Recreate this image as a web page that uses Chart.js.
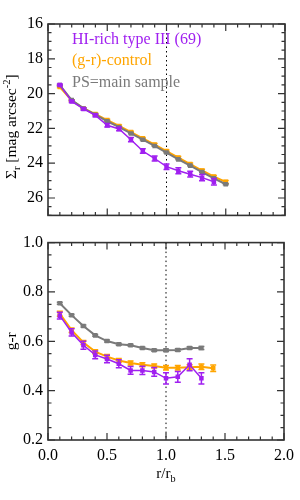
<!DOCTYPE html>
<html>
<head>
<meta charset="utf-8">
<script src="https://cdn.jsdelivr.net/npm/chart.js@4.4.0/dist/chart.umd.min.js"></script>
<style>
body { margin: 0; background: #fff; }
#wrap { position: relative; width: 300px; height: 500px; }
canvas { position: absolute; left: 0; display: block; }
</style>
</head>
<body>
<div id="wrap">
<canvas id="sbChart" width="300" height="230" style="top:0"></canvas>
<canvas id="colorChart" width="300" height="272" style="top:228px"></canvas>
</div>
<script>
const radius = [0.1, 0.2, 0.3, 0.4, 0.5, 0.6, 0.7, 0.8, 0.9, 1.0, 1.1, 1.2, 1.3, 1.4, 1.5];

// surface brightness, mag arcsec^-2
const sbRich = [19.50, 20.45, 20.88, 21.25, 21.82, 22.03, 22.65, 23.30, 23.73, 24.20, 24.43, 24.63, 24.83, 25.07];
const sbRichErr = [0.05, 0.06, 0.07, 0.08, 0.10, 0.10, 0.12, 0.13, 0.14, 0.16, 0.17, 0.17, 0.18, 0.19];
const sbControl = [19.62, 20.40, 20.85, 21.18, 21.52, 21.86, 22.21, 22.57, 22.93, 23.30, 23.68, 24.05, 24.42, 24.77, 25.07];
const sbControlErr = [0.04, 0.04, 0.04, 0.05, 0.05, 0.05, 0.05, 0.05, 0.06, 0.06, 0.06, 0.06, 0.07, 0.07, 0.08];
const sbMain = [19.51, 20.37, 20.85, 21.21, 21.59, 21.93, 22.29, 22.65, 23.01, 23.39, 23.78, 24.14, 24.51, 24.87, 25.21];
const sbMainErr = [0.02, 0.02, 0.02, 0.02, 0.02, 0.02, 0.02, 0.02, 0.02, 0.02, 0.02, 0.02, 0.02, 0.03, 0.03];

// g-r colour
const grRich = [0.704, 0.636, 0.584, 0.545, 0.528, 0.509, 0.482, 0.482, 0.476, 0.450, 0.456, 0.505, 0.450];
const grRichErr = [0.014, 0.015, 0.016, 0.016, 0.015, 0.016, 0.016, 0.017, 0.018, 0.023, 0.022, 0.024, 0.023];
const grControl = [0.712, 0.645, 0.595, 0.558, 0.538, 0.522, 0.512, 0.505, 0.500, 0.493, 0.493, 0.495, 0.497, 0.491];
const grControlErr = [0.010, 0.009, 0.008, 0.008, 0.008, 0.008, 0.008, 0.008, 0.008, 0.009, 0.009, 0.010, 0.011, 0.013];
const grMain = [0.754, 0.706, 0.662, 0.624, 0.601, 0.588, 0.584, 0.573, 0.564, 0.564, 0.565, 0.573, 0.573];
const grMainErr = [0.004, 0.004, 0.004, 0.004, 0.004, 0.004, 0.004, 0.004, 0.004, 0.005, 0.005, 0.005, 0.006];

const seriesNames = ['HI-rich type III (69)', '(g-r)-control', 'PS=main sample'];
const seriesColors = ['#A020F0', '#FFA500', '#7a7a7a'];

const sbTicks = [16, 18, 20, 22, 24, 26];
const grTicks = [0.2, 0.4, 0.6, 0.8, 1.0];
const radTicks = [0.0, 0.5, 1.0, 1.5, 2.0];

const FONT = 'Liberation Serif, Times New Roman, serif';

function pts(vals, errs) {
    return vals.map((v, i) => ({ x: radius[i], y: v, err: errs[i] }));
}

function series(i, vals, errs, width) {
    return {
        label: seriesNames[i],
        data: pts(vals, errs),
        borderColor: seriesColors[i],
        backgroundColor: seriesColors[i],
        borderWidth: width,
        pointStyle: 'rect',
        pointRadius: 3.2,
        pointBorderWidth: 0,
        tension: 0
    };
}

// text with sub/superscripts, parts = [[text, mode]] mode: 0 normal, -1 sub, 1 sup
function drawRich(ctx, parts, x, y, size) {
    let total = 0;
    parts.forEach(p => {
        ctx.font = (p[1] ? size * 0.68 : size) + 'px ' + FONT;
        total += ctx.measureText(p[0]).width;
    });
    let cx = x - total / 2;
    parts.forEach(p => {
        ctx.font = (p[1] ? size * 0.68 : size) + 'px ' + FONT;
        let dy = 0;
        if (p[1] === -1) dy = size * 0.25;
        if (p[1] === 1) dy = -size * 0.4;
        ctx.fillText(p[0], cx, y + dy);
        cx += ctx.measureText(p[0]).width;
    });
}

const framePlugin = {
    id: 'frame',
    beforeDatasetsDraw(chart) {
        const ctx = chart.ctx, a = chart.chartArea;
        const px = chart.scales.x.getPixelForValue(1.0);
        ctx.save();
        ctx.strokeStyle = '#000';
        ctx.lineWidth = 1;
        ctx.setLineDash([1.5, 3]);
        ctx.beginPath();
        ctx.moveTo(px, a.top);
        ctx.lineTo(px, a.bottom);
        ctx.stroke();
        ctx.restore();
    },
    afterDatasetDraw(chart, args) {
        const ds = chart.data.datasets[args.index];
        const ys = chart.scales.y;
        const ctx = chart.ctx;
        ctx.save();
        ctx.strokeStyle = ds.borderColor;
        ctx.lineWidth = 1.5;
        args.meta.data.forEach((pt, i) => {
            const d = ds.data[i];
            const y1 = ys.getPixelForValue(d.y - d.err);
            const y2 = ys.getPixelForValue(d.y + d.err);
            ctx.beginPath();
            ctx.moveTo(pt.x, y1); ctx.lineTo(pt.x, y2);
            ctx.moveTo(pt.x - 3, y1); ctx.lineTo(pt.x + 3, y1);
            ctx.moveTo(pt.x - 3, y2); ctx.lineTo(pt.x + 3, y2);
            ctx.stroke();
        });
        ctx.restore();
    },
    afterDraw(chart, args, opts) {
        const ctx = chart.ctx, a = chart.chartArea;
        const xs = chart.scales.x, ys = chart.scales.y;
        ctx.save();
        ctx.strokeStyle = '#333';
        ctx.lineWidth = 1.6;
        ctx.strokeRect(a.left, a.top, a.right - a.left, a.bottom - a.top);

        ctx.lineWidth = 1.2;
        ctx.beginPath();
        for (let v = xs.min; v <= xs.max + 1e-9; v += opts.minorX) {
            const major = Math.abs(v / 0.5 - Math.round(v / 0.5)) < 1e-6;
            const len = major ? 7 : 3.5;
            const p = xs.getPixelForValue(v);
            ctx.moveTo(p, a.bottom); ctx.lineTo(p, a.bottom - len);
            ctx.moveTo(p, a.top); ctx.lineTo(p, a.top + len);
        }
        const lo = Math.min(ys.min, ys.max), hi = Math.max(ys.min, ys.max);
        for (let v = lo; v <= hi + 1e-9; v += opts.minorY) {
            const major = Math.abs(v / opts.majorY - Math.round(v / opts.majorY)) < 1e-6;
            const len = major ? 7 : 3.5;
            const p = ys.getPixelForValue(v);
            ctx.moveTo(a.left, p); ctx.lineTo(a.left + len, p);
            ctx.moveTo(a.right, p); ctx.lineTo(a.right - len, p);
        }
        ctx.stroke();

        // y title
        ctx.fillStyle = '#000';
        ctx.textBaseline = 'alphabetic';
        ctx.textAlign = 'left';
        ctx.save();
        ctx.translate(opts.yTitleX, (a.top + a.bottom) / 2 + opts.yTitleShift);
        ctx.rotate(-Math.PI / 2);
        drawRich(ctx, opts.yTitle, 0, 0, 15.5);
        ctx.restore();

        if (opts.xTitle) {
            drawRich(ctx, opts.xTitle, xs.getPixelForValue(1.0), opts.xTitleY, 15);
        }

        if (opts.legend) {
            ctx.font = '16px ' + FONT;
            seriesNames.forEach((name, i) => {
                ctx.fillStyle = seriesColors[i];
                ctx.fillText(name, 72, a.top + 19.5 + i * 21.5);
            });
        }
        ctx.restore();
    }
};

function makeChart(id, cfg) {
    //eslint-disable-next-line
    return new Chart(document.getElementById(id), {
        type: 'line',
        data: { datasets: cfg.datasets },
        options: {
            responsive: false,
            animation: false,
            layout: { padding: { top: cfg.top, right: 15, left: 0, bottom: 0 } },
            plugins: {
                legend: { display: false },
                tooltip: { enabled: false },
                frame: cfg.frame
            },
            scales: {
                x: {
                    type: 'linear',
                    min: 0,
                    max: 2,
                    grid: { display: false, drawTicks: false },
                    border: { display: false },
                    ticks: {
                        display: cfg.xLabels,
                        padding: 6,
                        color: '#000',
                        font: { family: FONT, size: 16 },
                        callback: v => v.toFixed(1)
                    },
                    afterBuildTicks: s => { s.ticks = radTicks.map(v => ({ value: v })); },
                    afterFit: s => { s.height = cfg.xHeight; }
                },
                y: {
                    type: 'linear',
                    min: cfg.yMin,
                    max: cfg.yMax,
                    reverse: cfg.reverse,
                    grid: { display: false, drawTicks: false },
                    border: { display: false },
                    ticks: {
                        padding: 5,
                        color: '#000',
                        font: { family: FONT, size: 16 },
                        callback: cfg.fmt
                    },
                    afterBuildTicks: s => { s.ticks = cfg.yTicks.map(v => ({ value: v })); },
                    afterFit: s => { s.width = 48; }
                }
            }
        },
        plugins: [framePlugin]
    });
}

makeChart('sbChart', {
    datasets: [
        series(0, sbRich, sbRichErr, 1.5),
        series(2, sbMain, sbMainErr, 2),
        series(1, sbControl, sbControlErr, 2)
    ],
    top: 24,
    xHeight: 2,
    xLabels: false,
    yMin: 16,
    yMax: 27,
    reverse: true,
    yTicks: sbTicks,
    fmt: v => v.toFixed(0),
    frame: {
        minorX: 0.1, minorY: 0.5, majorY: 2,
        yTitleX: 16, yTitleShift: 7,
        yTitle: [['\u03A3', 0], ['r', -1], [' [mag arcsec', 0], ['-2', 1], [']', 0]],
        legend: true
    }
});

makeChart('colorChart', {
    datasets: [
        series(0, grRich, grRichErr, 1.5),
        series(2, grMain, grMainErr, 2),
        series(1, grControl, grControlErr, 2)
    ],
    top: 9,
    xHeight: 60,
    xLabels: true,
    yMin: 0.2,
    yMax: 1.0,
    reverse: false,
    yTicks: grTicks,
    fmt: v => v.toFixed(1),
    frame: {
        minorX: 0.1, minorY: 0.05, majorY: 0.2,
        yTitleX: 16, yTitleShift: 0,
        yTitle: [['g-r', 0]],
        xTitle: [['r/r', 0], ['b', -1]],
        xTitleY: 478 - 228
    }
});
</script>
</body>
</html>
